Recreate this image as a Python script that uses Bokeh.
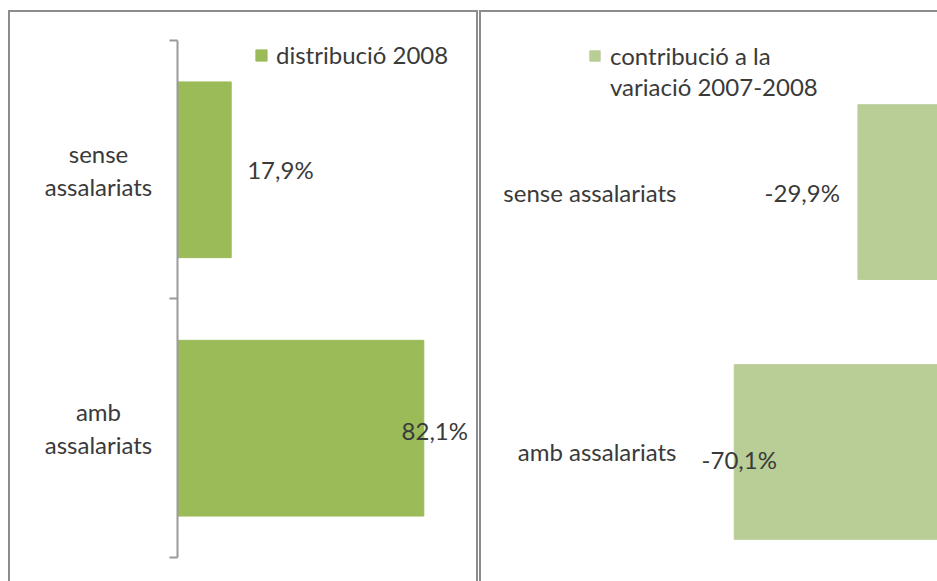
from bokeh.plotting import figure
from bokeh.models import Range1d, FixedTicker, Legend, LegendItem
from bokeh.layouts import row
from bokeh.embed import file_html
from bokeh.resources import INLINE
from bokeh.core.properties import value

# ---- data ----
categories = ["sense assalariats", "amb assalariats"]
categories_left = ["sense\nassalariats", "amb\nassalariats"]
distribucio_2008 = [17.9, 82.1]
contribucio_2007_2008 = [-29.9, -70.1]
legend_left = "distribució 2008"
legend_right = ["contribució a la", "variació 2007-2008"]

FONT = "Lato"
FS = "24px"
TXT = "#3a3a3a"
GREEN = "#9BBB59"
LIGHT = "#B9CD96"
AXIS = "#9a9a9a"
BORDER = "2px solid #8c8c8c"


def fmt(v):
    return f"{v:.1f}%".replace(".", ",")


n = len(categories)
ypos = [i + 0.5 for i in range(n)]
left_yrange = dict(start=n + 0.101, end=-0.1087)

# ---------------- left panel: category labels ----------------
p0 = figure(width=160, height=571, x_range=Range1d(-1, 1), y_range=Range1d(**left_yrange),
            output_backend="svg", toolbar_location=None,
            x_axis_location=None, y_axis_location=None,
            min_border_left=0, min_border_right=0, min_border_top=0, min_border_bottom=0,
            margin=(10, 0, 0, 8),
            styles={"border-top": BORDER, "border-left": BORDER})
p0.outline_line_color = None
p0.grid.visible = False
p0.text(x=[0] * n, y=ypos, text=categories_left,
        text_font=value(FONT), text_font_size=FS, text_color=TXT,
        text_align="center", text_baseline="middle", text_line_height=1.15, x_offset=8)

# ---------------- left panel: bars ----------------
p1 = figure(width=310, height=571, x_range=Range1d(0, 100), y_range=Range1d(**left_yrange),
            output_backend="svg", toolbar_location=None, x_axis_location=None,
            min_border_left=9, min_border_right=1, min_border_top=0, min_border_bottom=0,
            margin=(10, 0, 0, 0),
            styles={"border-top": BORDER, "border-right": BORDER})
p1.outline_line_color = None
p1.grid.visible = False
r1 = p1.hbar(y=ypos, left=0, right=distribucio_2008, height=0.68, color=GREEN)
p1.yaxis.ticker = FixedTicker(ticks=[], minor_ticks=list(range(n + 1)))
p1.yaxis.bounds = (0, n)
p1.yaxis.major_tick_out = 0
p1.yaxis.major_tick_in = 0
p1.yaxis.major_label_standoff = 0
p1.yaxis.minor_tick_out = 8
p1.yaxis.minor_tick_in = 0
p1.yaxis.minor_tick_line_color = AXIS
p1.yaxis.minor_tick_line_width = 2
p1.yaxis.axis_line_color = AXIS
p1.yaxis.axis_line_width = 2

p1.text(x=[distribucio_2008[0]], y=[ypos[0]], text=[fmt(distribucio_2008[0])],
        text_font=value(FONT), text_font_size=FS, text_color=TXT,
        text_align="left", text_baseline="middle", x_offset=16, y_offset=0)
p1.text(x=[distribucio_2008[1]], y=[ypos[1]], text=[fmt(distribucio_2008[1])],
        text_font=value(FONT), text_font_size=FS, text_color=TXT,
        text_align="center", text_baseline="middle", x_offset=11, y_offset=2)

leg1 = Legend(items=[LegendItem(label=legend_left, renderers=[r1])], location=(77, 514),
              padding=0, margin=0, border_line_color=None, background_fill_alpha=0,
              glyph_width=14, glyph_height=14, label_standoff=8,
              label_text_font=FONT, label_text_font_size=FS, label_text_color=TXT)
p1.add_layout(leg1)

# ---------------- right panel ----------------
p2 = figure(width=458, height=571, x_range=Range1d(-118.1, -3.4), y_range=Range1d(2.006, -0.191),
            output_backend="svg", toolbar_location=None, x_axis_location=None,
            min_border_left=105, min_border_right=0, min_border_top=0, min_border_bottom=0,
            margin=(10, 0, 0, 1),
            styles={"border-top": BORDER, "border-left": BORDER})
p2.outline_line_color = None
p2.grid.visible = False
r2 = p2.hbar(y=ypos, left=contribucio_2007_2008, right=0, height=0.672, color=LIGHT)
r2b = p2.scatter(x=[contribucio_2007_2008[0]], y=[ypos[0]], alpha=0, size=1)
p2.yaxis.ticker = FixedTicker(ticks=ypos)
p2.yaxis.major_label_overrides = {y: c for y, c in zip(ypos, categories)}
p2.yaxis.major_tick_out = 0
p2.yaxis.major_tick_in = 0
p2.yaxis.minor_tick_out = 0
p2.yaxis.minor_tick_in = 0
p2.yaxis.axis_line_color = None
p2.yaxis.major_label_text_font = FONT
p2.yaxis.major_label_text_font_size = FS
p2.yaxis.major_label_text_color = TXT
p2.yaxis.major_label_standoff = -90

p2.text(x=[contribucio_2007_2008[0]], y=[ypos[0]], text=[fmt(contribucio_2007_2008[0])],
        text_font=value(FONT), text_font_size=FS, text_color=TXT,
        text_align="right", text_baseline="middle", x_offset=-18, y_offset=0)
p2.text(x=[contribucio_2007_2008[1]], y=[ypos[1]], text=[fmt(contribucio_2007_2008[1])],
        text_font=value(FONT), text_font_size=FS, text_color=TXT,
        text_align="center", text_baseline="middle", x_offset=5, y_offset=8)

leg2 = Legend(items=[LegendItem(label=legend_right[0], renderers=[r2]),
                     LegendItem(label=legend_right[1], renderers=[r2b])],
              location=(2, 482), spacing=2,
              padding=0, margin=0, border_line_color=None, background_fill_alpha=0,
              glyph_width=13, glyph_height=13, label_standoff=9,
              label_text_font=FONT, label_text_font_size=FS, label_text_color=TXT)
p2.add_layout(leg2)

layout = row(p0, p1, p2)
open("out.html", "w").write(file_html(layout, INLINE))
